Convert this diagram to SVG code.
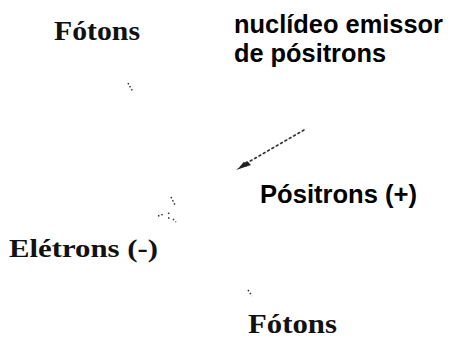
<svg xmlns="http://www.w3.org/2000/svg" width="452" height="343" viewBox="0 0 452 343">
<style>
.serif{font-family:"Liberation Serif","Times New Roman",serif;font-weight:bold;fill:#111}
.sans{font-family:"Liberation Sans",Arial,sans-serif;font-weight:bold;fill:#000}
.dot{stroke:#333;stroke-width:1.6;stroke-dasharray:2 3;fill:none;stroke-linecap:round}
.tick{stroke:#333;stroke-width:1.5;stroke-dasharray:1.5 2;fill:none}
</style>
<defs>
<marker id="ah" viewBox="0 0 10 10" refX="9" refY="5" markerWidth="7" markerHeight="7" orient="auto" markerUnits="userSpaceOnUse">
<path d="M0,1 L10,5 L0,9 Z" fill="#222"/>
</marker>
</defs>
<rect width="452" height="343" fill="#fff"/>
<g id="photon-top"><text class="serif" x="54" y="40" font-size="28" textLength="86" lengthAdjust="spacingAndGlyphs">Fótons</text></g>
<g id="nuclide"><text class="sans" x="234" y="33" font-size="25.5" textLength="209" lengthAdjust="spacingAndGlyphs">nuclídeo emissor</text>
<text class="sans" x="234" y="62" font-size="25.5" textLength="152" lengthAdjust="spacingAndGlyphs">de pósitrons</text></g>
<g id="positron"><text class="sans" x="260" y="203" font-size="25.5" textLength="157" lengthAdjust="spacingAndGlyphs">Pósitrons (+)</text></g>
<g id="electron"><text class="serif" x="9" y="257" font-size="26" textLength="149" lengthAdjust="spacingAndGlyphs">Elétrons (-)</text></g>
<g id="photon-bottom"><text class="serif" x="248" y="333" font-size="27" textLength="89" lengthAdjust="spacingAndGlyphs">Fótons</text></g>
<g id="connectors">
<line class="dot" x1="304" y1="130" x2="240" y2="167" marker-end="url(#ah)"/>
<path d="M247,161 L236,170 L251,165 Z" fill="#222"/>
<line class="tick" x1="128" y1="83" x2="133" y2="92"/>
<line class="tick" x1="171" y1="197" x2="175" y2="205"/>
<path class="tick" d="M158,216 L164,214 M168,213 L170,214 M168,218 L171,218 M173,219 L176,222"/>
<line class="tick" x1="248" y1="290" x2="252" y2="296"/>
</g>
</svg>
